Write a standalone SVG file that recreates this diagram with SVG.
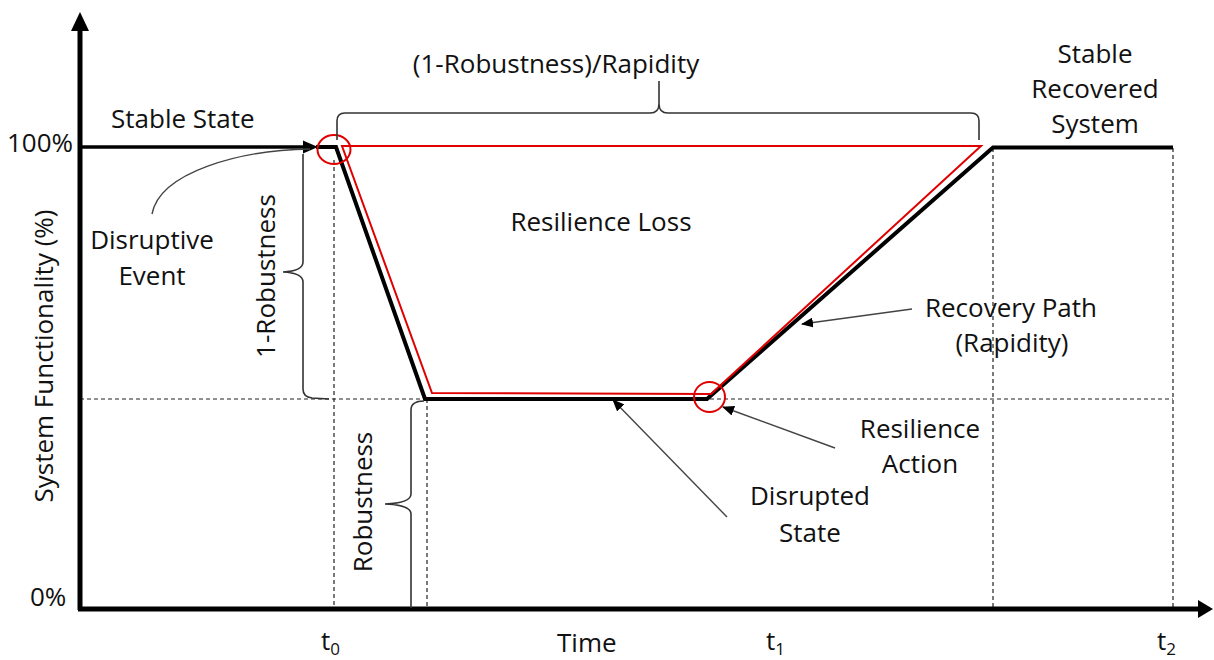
<svg xmlns="http://www.w3.org/2000/svg" width="1214" height="660" viewBox="0 0 1214 660">
<style>
text{font-family:"Open Sans","Liberation Sans",sans-serif;font-size:26px;fill:#111}
.c{text-anchor:middle}
.sub{font-size:17px}
.dash{stroke:#222;stroke-width:1.2;stroke-dasharray:4 3;fill:none}
.brace{stroke:#333;stroke-width:1.6;fill:none}
.lead{stroke:#444;stroke-width:1.4;fill:none}
</style>
<defs>
<marker id="ah" viewBox="0 0 12 10" refX="11" refY="5" markerWidth="12" markerHeight="10" markerUnits="userSpaceOnUse" orient="auto">
<path d="M0,0 L12,5 L0,10 Z" fill="#000"/>
</marker>
</defs>
<rect width="1214" height="660" fill="#fff"/>

<g id="guides">
<path class="dash" d="M80,399 H1173"/>
<path class="dash" d="M334,160 V608"/>
<path class="dash" d="M427,399 V608"/>
<path class="dash" d="M993,148 V608"/>
<path class="dash" d="M1173,148 V608"/>
</g>

<g id="axes">
<line x1="80" y1="610" x2="80" y2="28" stroke="#000" stroke-width="5"/>
<path d="M71,31 L80,12 L89,31 Z" fill="#000"/>
<line x1="78" y1="609" x2="1200" y2="609" stroke="#000" stroke-width="5"/>
<path d="M1198,600 L1213,609 L1198,618 Z" fill="#000"/>
</g>

<g id="curve">
<line x1="80" y1="147" x2="306" y2="147" stroke="#000" stroke-width="3.5"/>
<path d="M303,140.5 L318,147 L303,153.5 Z" fill="#000"/>
<path d="M316,147 L336,147 L425,399 L707,399 L993,147.5 L1173,147.5" fill="none" stroke="#000" stroke-width="4" stroke-linejoin="miter"/>
<path d="M342,146 L981,146 L711,394 L432,393 Z" fill="none" stroke="#e00000" stroke-width="2"/>
<ellipse cx="334" cy="149.5" rx="16.5" ry="14.5" fill="none" stroke="#e00000" stroke-width="2"/>
<ellipse cx="709.5" cy="397" rx="15.5" ry="15" fill="none" stroke="#e00000" stroke-width="2"/>
</g>

<g id="braces">
<path class="brace" d="M337,140 L337,121 Q337,113 345,113 L650,113 Q659,113 659,104 L659,81 M659,104 Q659,113 668,113 L971,113 Q979,113 979,121 L979,140" stroke-width="2" stroke="#111"/>
<path class="brace" d="M303,154 L303,262 Q303,271 283,272 Q303,273 303,282 L303,389 Q303,397 312,398 L329,399"/>
<path class="brace" d="M424,401 Q411,401 411,410 L411,494 Q411,503 385,504 Q411,505 411,514 L411,608"/>
</g>

<g id="connectors">
<path class="lead" d="M152,214 C160,172 240,150 310,149"/>
<line class="lead" x1="912" y1="309" x2="802" y2="324" marker-end="url(#ah)"/>
<line class="lead" x1="835" y1="448" x2="723" y2="407" marker-end="url(#ah)"/>
<line class="lead" x1="727" y1="517" x2="613" y2="400" marker-end="url(#ah)"/>
</g>

<g id="label-y-axis"><text class="c" transform="translate(53,356) rotate(-90)">System Functionality (%)</text></g>
<g id="label-100"><text x="7" y="152">100%</text></g>
<g id="label-0"><text x="30" y="606">0%</text></g>
<g id="label-stable-state"><text x="111" y="128">Stable State</text></g>
<g id="label-disruptive-event"><text class="c" x="152" y="249">Disruptive</text><text class="c" x="152" y="285">Event</text></g>
<g id="label-1-robustness"><text class="c" transform="translate(275,276) rotate(-90)">1-Robustness</text></g>
<g id="label-robustness"><text class="c" transform="translate(372,502) rotate(-90)">Robustness</text></g>
<g id="label-ratio"><text class="c" x="556" y="73">(1-Robustness)/Rapidity</text></g>
<g id="label-resilience-loss"><text class="c" x="601" y="231">Resilience Loss</text></g>
<g id="label-stable-recovered"><text class="c" x="1095" y="63">Stable</text><text class="c" x="1095" y="98">Recovered</text><text class="c" x="1095" y="133">System</text></g>
<g id="label-recovery-path"><text class="c" x="1011" y="317">Recovery Path</text><text class="c" x="1012" y="352">(Rapidity)</text></g>
<g id="label-resilience-action"><text class="c" x="920" y="438">Resilience</text><text class="c" x="920" y="473">Action</text></g>
<g id="label-disrupted-state"><text class="c" x="810" y="505">Disrupted</text><text class="c" x="810" y="542">State</text></g>
<g id="label-t0"><text x="321" y="650">t<tspan class="sub" dy="5">0</tspan></text></g>
<g id="label-time"><text x="557" y="652">Time</text></g>
<g id="label-t1"><text x="766" y="650">t<tspan class="sub" dy="5">1</tspan></text></g>
<g id="label-t2"><text x="1157" y="650">t<tspan class="sub" dy="5">2</tspan></text></g>
</svg>
